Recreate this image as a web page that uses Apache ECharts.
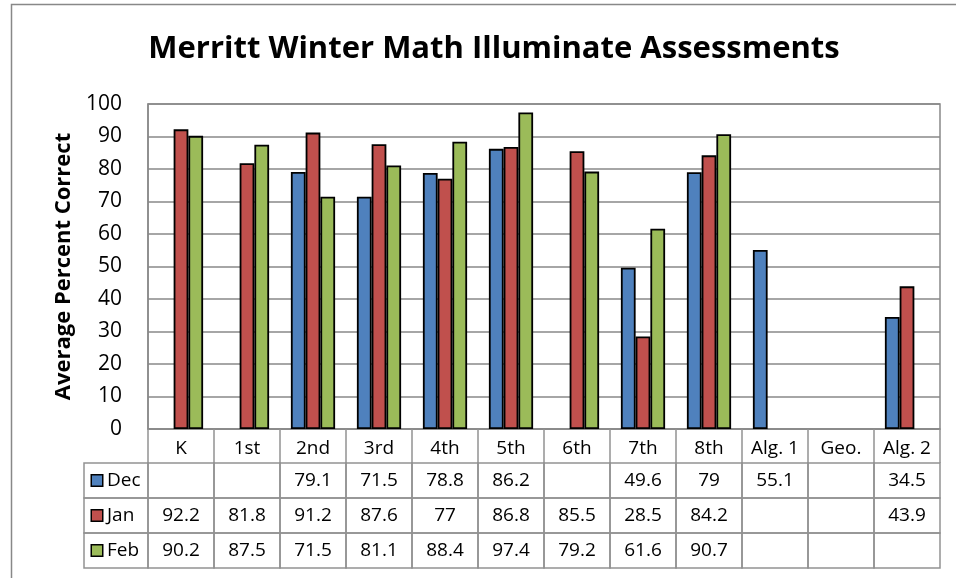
<!DOCTYPE html>
<html>
<head>
<meta charset="utf-8">
<script src="https://cdn.jsdelivr.net/npm/echarts@6/dist/echarts.min.js"></script>
<style>html,body{margin:0;padding:0;background:#fff}#c{width:956px;height:578px}</style>
</head>
<body>
<div id="c"></div>
<script>
const categories = ['K','1st','2nd','3rd','4th','5th','6th','7th','8th','Alg. 1','Geo.','Alg. 2'];
const seriesNames = ['Dec','Jan','Feb'];
const dec = [null,null,79.1,71.5,78.8,86.2,null,49.6,79,55.1,null,34.5];
const jan = [92.2,81.8,91.2,87.6,77,86.8,85.5,28.5,84.2,null,null,43.9];
const feb = [90.2,87.5,71.5,81.1,88.4,97.4,79.2,61.6,90.7,null,null,null];
const yTicks = [0,10,20,30,40,50,60,70,80,90,100];
const colors = ['#4F81BD','#C0504D','#9BBB59'];

const rows = [dec, jan, feb];
const FONT = '"Open Sans", "Noto Sans", sans-serif';
const GRID_COLOR = '#898989';
const TABLE_COLOR = '#929292';

const tableData = [];
const tableText = [];
rows.forEach((arr, r) => arr.forEach((v, c) => {
  tableData.push([c, r]);
  tableText.push(v == null ? '' : String(v));
}));

const chart = echarts.init(document.getElementById('c'));
const rich = {};
seriesNames.forEach((n, i) => {
  rich['b' + i] = {width: 10, height: 10, backgroundColor: colors[i], borderColor: '#000', borderWidth: 1.5};
});
rich.t = {fontSize: 19, fontFamily: FONT, color: '#000', padding: [0, 0, 0, 5]};

chart.setOption({
  animation: false,
  title: {
    text: 'Merritt Winter Math Illuminate Assessments',
    left: 489, top: 29, textAlign: 'center',
    textStyle: {fontFamily: FONT, fontWeight: 'bold', fontSize: 31, color: '#000'}
  },
  graphic: [{
    type: 'rect', left: 9, top: 2,
    shape: {width: 1200, height: 900},
    style: {fill: 'none', stroke: '#888', lineWidth: 1.5}, silent: true, z: -1
  }],
  grid: [
    {left: 148, right: 16, top: 104, bottom: 149, show: true, borderColor: GRID_COLOR, borderWidth: 1.5, backgroundColor: 'transparent'},
    {left: 148, right: 16, top: 463, bottom: 10}
  ],
  xAxis: [
    {type: 'category', gridIndex: 0, data: categories,
      axisLine: {lineStyle: {color: GRID_COLOR, width: 1.5}},
      axisTick: {show: true, interval: 0, length: 34, lineStyle: {color: TABLE_COLOR, width: 1.5}},
      axisLabel: {interval: 0, margin: 10, fontSize: 19, fontFamily: FONT, color: '#000'}},
    {type: 'category', gridIndex: 1, data: categories, show: false}
  ],
  yAxis: [
    {type: 'value', gridIndex: 0, min: 0, max: 100, interval: 10,
      name: 'Average Percent Correct', nameLocation: 'middle', nameGap: 73,
      nameTextStyle: {fontFamily: FONT, fontWeight: 'bold', fontSize: 22, color: '#000'},
      axisLine: {show: true, lineStyle: {color: GRID_COLOR, width: 1.5}},
      axisTick: {show: false},
      axisLabel: {margin: 26, fontSize: 21, fontFamily: FONT, color: '#000',
        formatter: v => yTicks.indexOf(v) >= 0 ? String(v) : ''},
      splitLine: {lineStyle: {color: GRID_COLOR, width: 1.5}}},
    {type: 'category', gridIndex: 1, data: seriesNames, inverse: true,
      axisLine: {show: false}, axisTick: {show: false},
      axisLabel: {align: 'left', margin: 56,
        formatter: (v, i) => '{b' + i + '|}{t|' + v + '}', rich: rich}}
  ],
  series: [
    ...rows.map((arr, i) => ({
      type: 'bar', name: seriesNames[i], data: arr, xAxisIndex: 0, yAxisIndex: 0,
      barGap: 0, barCategoryGap: '33%',
      itemStyle: {color: colors[i], borderColor: '#000', borderWidth: 1.8}
    })),
    {
      type: 'custom', xAxisIndex: 1, yAxisIndex: 1, data: tableData,
      renderItem: function (params, api) {
        const c = api.value(0), r = api.value(1);
        const p = api.coord([c, r]);
        const s = api.size([1, 1]);
        const x = p[0] - s[0] / 2, y = p[1] - s[1] / 2;
        const children = [
          {type: 'rect', shape: {x: x, y: y, width: s[0], height: s[1]},
            style: {fill: 'none', stroke: TABLE_COLOR, lineWidth: 1.5}},
          {type: 'text', style: {x: p[0], y: p[1], text: tableText[params.dataIndex],
            textAlign: 'center', textVerticalAlign: 'middle', fontSize: 19, fontFamily: FONT, fill: '#000'}}
        ];
        if (c === 0) {
          children.push({type: 'rect', shape: {x: x - 64, y: y, width: 64, height: s[1]},
            style: {fill: 'none', stroke: TABLE_COLOR, lineWidth: 1.5}});
        }
        return {type: 'group', children: children};
      }
    }
  ]
});
</script>
</body>
</html>
